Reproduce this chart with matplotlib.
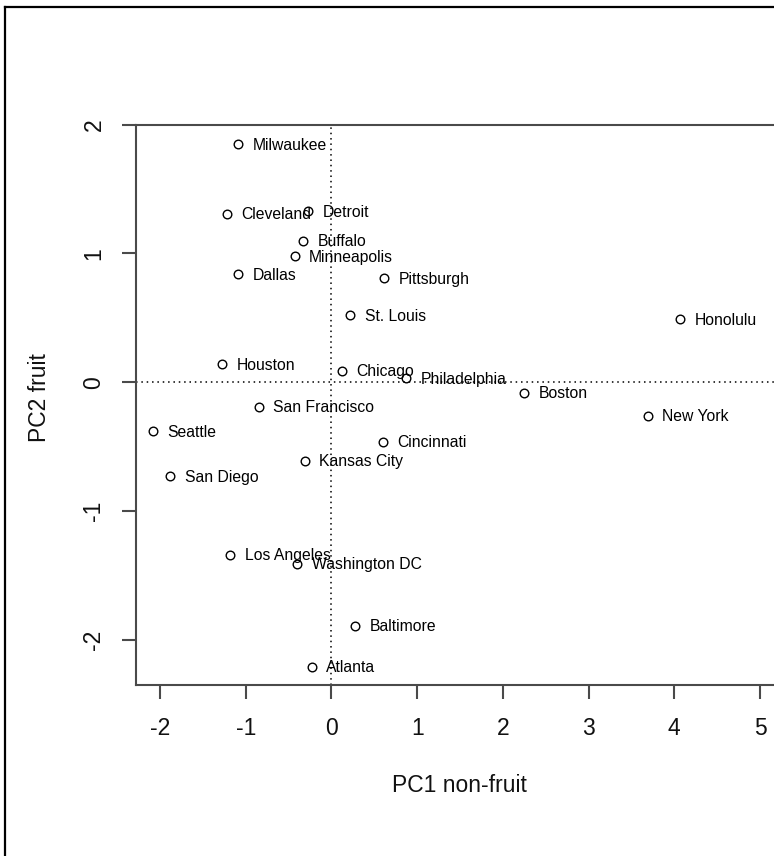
import matplotlib
matplotlib.use("Agg")
import matplotlib.pyplot as plt
from matplotlib.lines import Line2D

cities = ["Milwaukee", "Cleveland", "Detroit", "Buffalo", "Minneapolis", "Dallas",
          "Pittsburgh", "St. Louis", "Houston", "Chicago", "Philadelphia",
          "San Francisco", "Seattle", "Cincinnati", "Kansas City", "San Diego",
          "Los Angeles", "Washington DC", "Baltimore", "Atlanta",
          "Honolulu", "Boston", "New York"]
pc1 = [-1.09, -1.22, -0.27, -0.33, -0.43, -1.09, 0.61, 0.22, -1.28, 0.12, 0.87,
       -0.85, -2.08, 0.60, -0.31, -1.88, -1.18, -0.40, 0.28, -0.23,
       4.07, 2.25, 3.69]
pc2 = [1.85, 1.31, 1.33, 1.10, 0.98, 0.84, 0.81, 0.52, 0.14, 0.09, 0.03,
       -0.19, -0.38, -0.46, -0.61, -0.73, -1.34, -1.41, -1.89, -2.21,
       0.49, -0.08, -0.26]
xticks = [-2, -1, 0, 1, 2, 3, 4, 5]
yticks = [-2, -1, 0, 1, 2]
xlabel = "PC1 non-fruit"
ylabel = "PC2 fruit"

plt.rcParams['font.family'] = ['Liberation Sans', 'DejaVu Sans']

W, H = 774, 856
fig = plt.figure(figsize=(W / 100, H / 100), dpi=100)

def px(x0, y0, x1, y1):
    return [x0 / W, 1 - y1 / H, (x1 - x0) / W, (y1 - y0) / H]

ax = fig.add_axes(px(136, 124.7, 784, 685.3))
ax.set_xlim(-2.28, 5.28)
ax.set_ylim(-2.353, 2.0)

axcol = '#4a4a4a'
for s in ax.spines.values():
    s.set_color(axcol)
    s.set_linewidth(1.5)

ax.axhline(0, color='black', lw=1.1, ls=(0, (1, 2.5)), zorder=1)
ax.axvline(0, color='black', lw=1.1, ls=(0, (1, 2.5)), zorder=1)

ax.plot(pc1, pc2, 'o', ms=6.2, mfc='none', mec='black', mew=1.0, zorder=3, clip_on=False)
for name, x, y in zip(cities, pc1, pc2):
    ax.annotate(name, (x, y), xytext=(10.5, -0.8), textcoords='offset points',
                ha='left', va='center', fontsize=11.3, color='black', zorder=4)

ax.set_xticks(xticks)
ax.set_yticks(yticks)
ax.set_xticklabels([str(v) for v in xticks])
ax.set_yticklabels([str(v) for v in yticks], rotation=90, va='center')
ax.tick_params(axis='both', direction='out', length=10, width=1.5, color=axcol,
               labelsize=16.5, labelcolor='#111111')
ax.tick_params(axis='x', pad=13)
ax.tick_params(axis='y', pad=12)

fig.text(459 / W, 1 - 786 / H, xlabel, ha='center', va='center', fontsize=16.5, color='#111111')
fig.text(40 / W, 1 - 398 / H, ylabel, ha='center', va='center', rotation=90,
         fontsize=16.5, color='#111111')

# outer frame (left and top)
fig.add_artist(Line2D([5 / W, 5 / W], [0, 1 - 7 / H], transform=fig.transFigure,
                      color='black', lw=1.6))
fig.add_artist(Line2D([5 / W, 1], [1 - 7 / H, 1 - 7 / H], transform=fig.transFigure,
                      color='black', lw=1.6))

fig.savefig('out.png', dpi=100)
